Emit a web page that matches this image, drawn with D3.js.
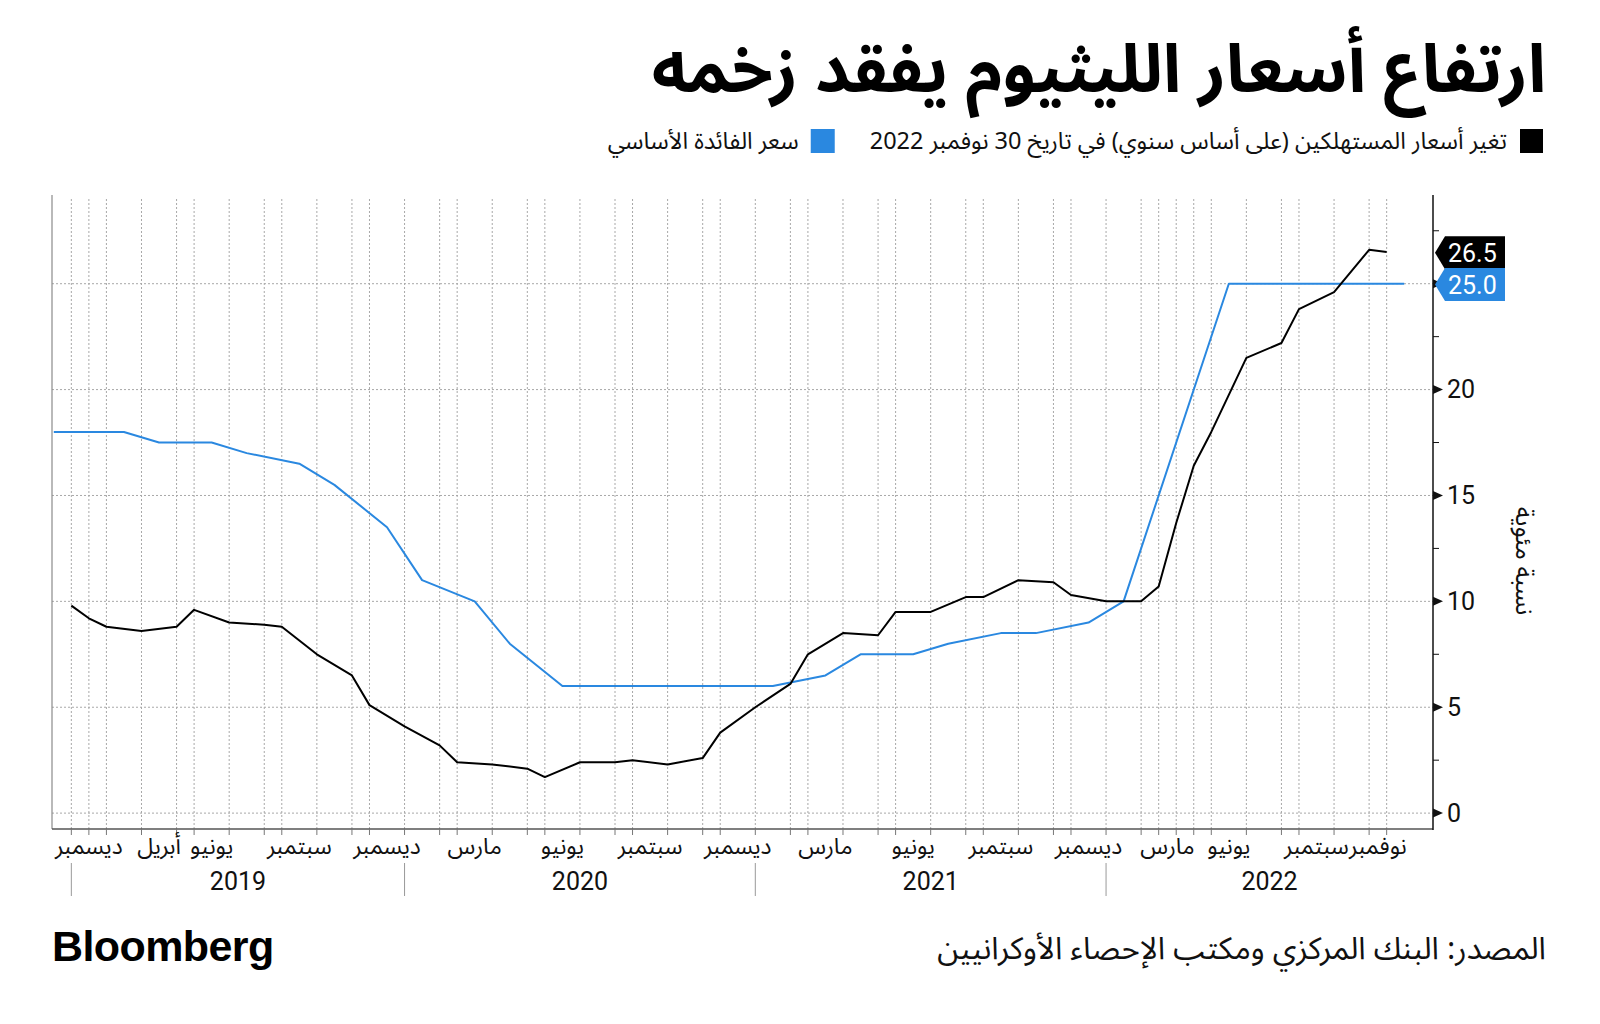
<!DOCTYPE html>
<html><head><meta charset="utf-8">
<script src="https://cdn.jsdelivr.net/npm/d3@7"></script>
<style>
body{margin:0;background:#fff;}
svg text{font-family:"Noto Sans Arabic","DejaVu Sans",sans-serif;}
</style></head><body>
<svg id="c" width="1600" height="1024"></svg>
<script>
// ---- DATA ----
const cpiDates = [
 "2018-12-31",
 "2019-01-31","2019-02-28","2019-03-31","2019-04-30","2019-05-31","2019-06-30",
 "2019-07-31","2019-08-31","2019-09-30","2019-10-31","2019-11-30","2019-12-31",
 "2020-01-31","2020-02-29","2020-03-31","2020-04-30","2020-05-31","2020-06-30",
 "2020-07-31","2020-08-31","2020-09-30","2020-10-31","2020-11-30","2020-12-31",
 "2021-01-31","2021-02-28","2021-03-31","2021-04-30","2021-05-31","2021-06-30",
 "2021-07-31","2021-08-31","2021-09-30","2021-10-31","2021-11-30","2021-12-31",
 "2022-01-31","2022-02-28","2022-03-31","2022-04-30","2022-05-31","2022-06-30",
 "2022-07-31","2022-08-31","2022-09-30","2022-10-31","2022-11-30"
];
const cpiValues = [
 9.8,
 9.2, 8.8, 8.6, 8.8, 9.6, 9.0, 8.9, 8.8, 7.5, 6.5, 5.1, 4.1,
 3.2, 2.4, 2.3, 2.1, 1.7, 2.4, 2.4, 2.5, 2.3, 2.6, 3.8, 5.0,
 6.1, 7.5, 8.5, 8.4, 9.5, 9.5, 10.2, 10.2, 11.0, 10.9, 10.3, 10.0,
 10.0, 10.7, 13.7, 16.4, 18.0, 21.5, 22.2, 23.8, 24.6, 26.6, 26.5
];
const rateDates = [
 "2018-12-13","2019-03-01","2019-04-18","2019-06-06","2019-07-18","2019-09-05",
 "2019-10-24","2019-12-12","2020-01-30","2020-03-12","2020-04-23","2020-06-11",
 "2020-07-23","2020-09-10","2020-10-22","2020-12-10","2021-01-21","2021-03-04",
 "2021-04-15","2021-06-10","2021-07-22","2021-09-09","2021-10-21","2021-12-09",
 "2022-01-20","2022-06-02","2022-07-21","2022-09-08","2022-10-27","2022-12-08"
];
const rateValues = [
 18.0, 18.0, 17.5, 17.5, 17.0, 16.5,
 15.5, 13.5, 11.0, 10.0, 8.0, 6.0,
 6.0, 6.0, 6.0, 6.0, 6.0, 6.5,
 7.5, 7.5, 8.0, 8.5, 8.5, 9.0,
 10.0, 25.0, 25.0, 25.0, 25.0, 25.0
];
const yTicks = [0, 5, 10, 15, 20, 25];
const monthLabelDates = ["2018-12-31","2019-04-30","2019-06-30","2019-09-30","2019-12-31",
 "2020-03-31","2020-06-30","2020-09-30","2020-12-31","2021-03-31","2021-06-30","2021-09-30",
 "2021-12-31","2022-03-31","2022-06-30","2022-09-30","2022-11-30"];
const monthLabelTexts = ["ديسمبر","أبريل","يونيو","سبتمبر","ديسمبر",
 "مارس","يونيو","سبتمبر","ديسمبر","مارس","يونيو","سبتمبر",
 "ديسمبر","مارس","يونيو","سبتمبر","نوفمبر"];
const yearLabels = ["2019","2020","2021","2022"];
const yearStartDates = ["2018-12-31","2019-12-31","2020-12-31","2021-12-31"];
const seriesNames = ["تغير أسعار المستهلكين (على أساس سنوي) في تاريخ 30 نوفمبر 2022","سعر الفائدة الأساسي"];
const titleText = "ارتفاع أسعار الليثيوم يفقد زخمه";
const sourceText = "المصدر: البنك المركزي ومكتب الإحصاء الأوكرانيين";
const yAxisTitle = "نسبة مئوية";

// ---- CHART ----
const BLACK = "#000", BLUE = "#2a88e0";
const L = 52, R = 1433, T = 199, B = 829;
const svg = d3.select("#c");

const allDates = Array.from(new Set([...cpiDates, ...rateDates])).sort();
const x = d3.scalePoint().domain(allDates).range([53.8, 1404.2]);
const y = d3.scaleLinear().domain([-0.75, 29]).range([B, T]);

// gridlines
svg.append("g").selectAll("line").data(yTicks).join("line")
  .attr("x1", L).attr("x2", R).attr("y1", d => y(d)).attr("y2", d => y(d))
  .attr("stroke", "#a8a8a8").attr("stroke-width", 1).attr("stroke-dasharray", "2,2");
svg.append("g").selectAll("line").data(cpiDates).join("line")
  .attr("x1", d => x(d)).attr("x2", d => x(d)).attr("y1", T).attr("y2", B)
  .attr("stroke", "#a8a8a8").attr("stroke-width", 1).attr("stroke-dasharray", "2,2");

// left axis line
svg.append("line").attr("x1", L).attr("x2", L).attr("y1", T - 4).attr("y2", B)
  .attr("stroke", "#8a8a8a").attr("stroke-width", 1.2);

// bottom axis
svg.append("line").attr("x1", L).attr("x2", R).attr("y1", B).attr("y2", B)
  .attr("stroke", "#555").attr("stroke-width", 1.5);
svg.append("g").selectAll("line").data(cpiDates).join("line")
  .attr("x1", d => x(d)).attr("x2", d => x(d)).attr("y1", B).attr("y2", B + 6)
  .attr("stroke", "#777").attr("stroke-width", 1);

// month labels
const cpiIndex = new Map(cpiDates.map((d, i) => [d, i]));
svg.append("g").selectAll("text").data(monthLabelDates).join("text")
  .attr("x", (d, i) => {
    const k = cpiIndex.get(d);
    if (k === 0) return L + 3;
    return (x(cpiDates[k - 1]) + x(d)) / 2;
  })
  .attr("y", 854)
  .attr("text-anchor", d => cpiIndex.get(d) === 0 ? "start" : "middle")
  .attr("font-size", 23).attr("fill", "#111")
  .text((d, i) => monthLabelTexts[i]);

// year dividers and labels
svg.append("g").selectAll("line").data(yearStartDates).join("line")
  .attr("x1", d => x(d)).attr("x2", d => x(d)).attr("y1", 863).attr("y2", 896)
  .attr("stroke", "#999").attr("stroke-width", 1);
svg.append("g").selectAll("text").data(yearLabels).join("text")
  .attr("x", (d, i) => {
    const a = x(yearStartDates[i]);
    const b = i < yearStartDates.length - 1 ? x(yearStartDates[i + 1]) : R;
    return (a + b) / 2;
  })
  .attr("y", 890).attr("text-anchor", "middle")
  .attr("font-size", 25).attr("fill", "#111")
  .style("font-family", "Roboto, 'Noto Sans', sans-serif")
  .text(d => d);

// right axis (25 label is covered by the end labels in the reference)
const yAxis = d3.axisRight(y).tickValues(yTicks).tickSize(0).tickPadding(14)
  .tickFormat(d => d === 25 ? "" : d3.format("d")(d));
const ga = svg.append("g").attr("transform", `translate(${R},0)`).call(yAxis);
ga.select(".domain").remove();
ga.selectAll("text").attr("font-size", 25).attr("fill", "#111")
  .style("font-family", "Roboto, 'Noto Sans', sans-serif");
svg.append("line").attr("x1", R).attr("x2", R).attr("y1", T - 4).attr("y2", B + 1)
  .attr("stroke", "#111").attr("stroke-width", 1.5);
svg.append("g").selectAll("path").data(yTicks).join("path")
  .attr("d", d => `M${R},${y(d) - 4.5}L${R + 10},${y(d)}L${R},${y(d) + 4.5}Z`)
  .attr("fill", "#111");
const minorTicks = d3.range(2.5, 29, 5);
svg.append("g").selectAll("line").data(minorTicks).join("line")
  .attr("x1", R).attr("x2", R + 6).attr("y1", d => y(d)).attr("y2", d => y(d))
  .attr("stroke", "#111").attr("stroke-width", 1);

// y axis title
svg.append("text").attr("transform", `translate(1524,561) rotate(90)`)
  .attr("text-anchor", "middle").attr("font-size", 25).attr("fill", "#111")
  .attr("dominant-baseline", "central")
  .text(yAxisTitle);

// lines
const line = d3.line().x(d => x(d[0])).y(d => y(d[1]));
const ratePts = rateDates.map((d, i) => [d, rateValues[i]]);
const cpiPts = cpiDates.map((d, i) => [d, cpiValues[i]]);
svg.append("path").datum(ratePts).attr("d", line).attr("fill", "none")
  .attr("stroke", BLUE).attr("stroke-width", 2).attr("stroke-linejoin", "round");
svg.append("path").datum(cpiPts).attr("d", line).attr("fill", "none")
  .attr("stroke", BLACK).attr("stroke-width", 2).attr("stroke-linejoin", "round");

// end labels
const endLabels = [
  {v: cpiValues[cpiValues.length - 1], c: BLACK, cy: y(cpiValues[cpiValues.length - 1]) + 0.8},
  {v: rateValues[rateValues.length - 1], c: BLUE, cy: y(rateValues[rateValues.length - 1]) + 0.8}
];
const lg = svg.append("g").selectAll("g").data(endLabels).join("g");
lg.append("path")
  .attr("d", d => `M${R + 2},${d.cy}L${R + 12},${d.cy - 16.5}L${R + 72},${d.cy - 16.5}L${R + 72},${d.cy + 16.5}L${R + 12},${d.cy + 16.5}Z`)
  .attr("fill", d => d.c);
lg.append("text").attr("x", R + 15).attr("y", d => d.cy + 1)
  .attr("dominant-baseline", "central").attr("font-size", 25).attr("fill", "#fff")
  .style("font-family", "Roboto, 'Noto Sans', sans-serif")
  .text(d => d3.format(".1f")(d.v));

// title
svg.append("text").attr("x", 1546).attr("y", 92)
  .style("direction", "rtl").attr("text-anchor", "start")
  .attr("font-size", 67).attr("font-weight", "bold").attr("fill", "#000")
  .text(titleText);

// legend
const legY = 141;
svg.append("rect").attr("x", 1520).attr("y", legY - 12).attr("width", 23).attr("height", 24).attr("fill", BLACK);
const t1 = svg.append("text").attr("x", 1507).attr("y", legY)
  .style("direction", "rtl").attr("text-anchor", "start")
  .attr("dominant-baseline", "central")
  .attr("font-size", 23.5).attr("fill", "#111").text(seriesNames[0]);
const b1 = t1.node().getBBox();
const sq2 = b1.x - 35;
svg.append("rect").attr("x", sq2 - 24).attr("y", legY - 12).attr("width", 24).attr("height", 24).attr("fill", BLUE);
svg.append("text").attr("x", sq2 - 36).attr("y", legY)
  .style("direction", "rtl").attr("text-anchor", "start")
  .attr("dominant-baseline", "central")
  .attr("font-size", 23.5).attr("fill", "#111").text(seriesNames[1]);

// source
svg.append("text").attr("x", 1546).attr("y", 959)
  .style("direction", "rtl").attr("text-anchor", "start")
  .attr("font-size", 31).attr("fill", "#111").text(sourceText);

// logo
svg.append("text").attr("x", 52).attr("y", 961)
  .attr("font-size", 43).attr("font-weight", "bold").attr("fill", "#000")
  .attr("letter-spacing", -0.6)
  .style("font-family", "'Liberation Sans', Arial, sans-serif")
  .text("Bloomberg");
</script>
</body></html>
